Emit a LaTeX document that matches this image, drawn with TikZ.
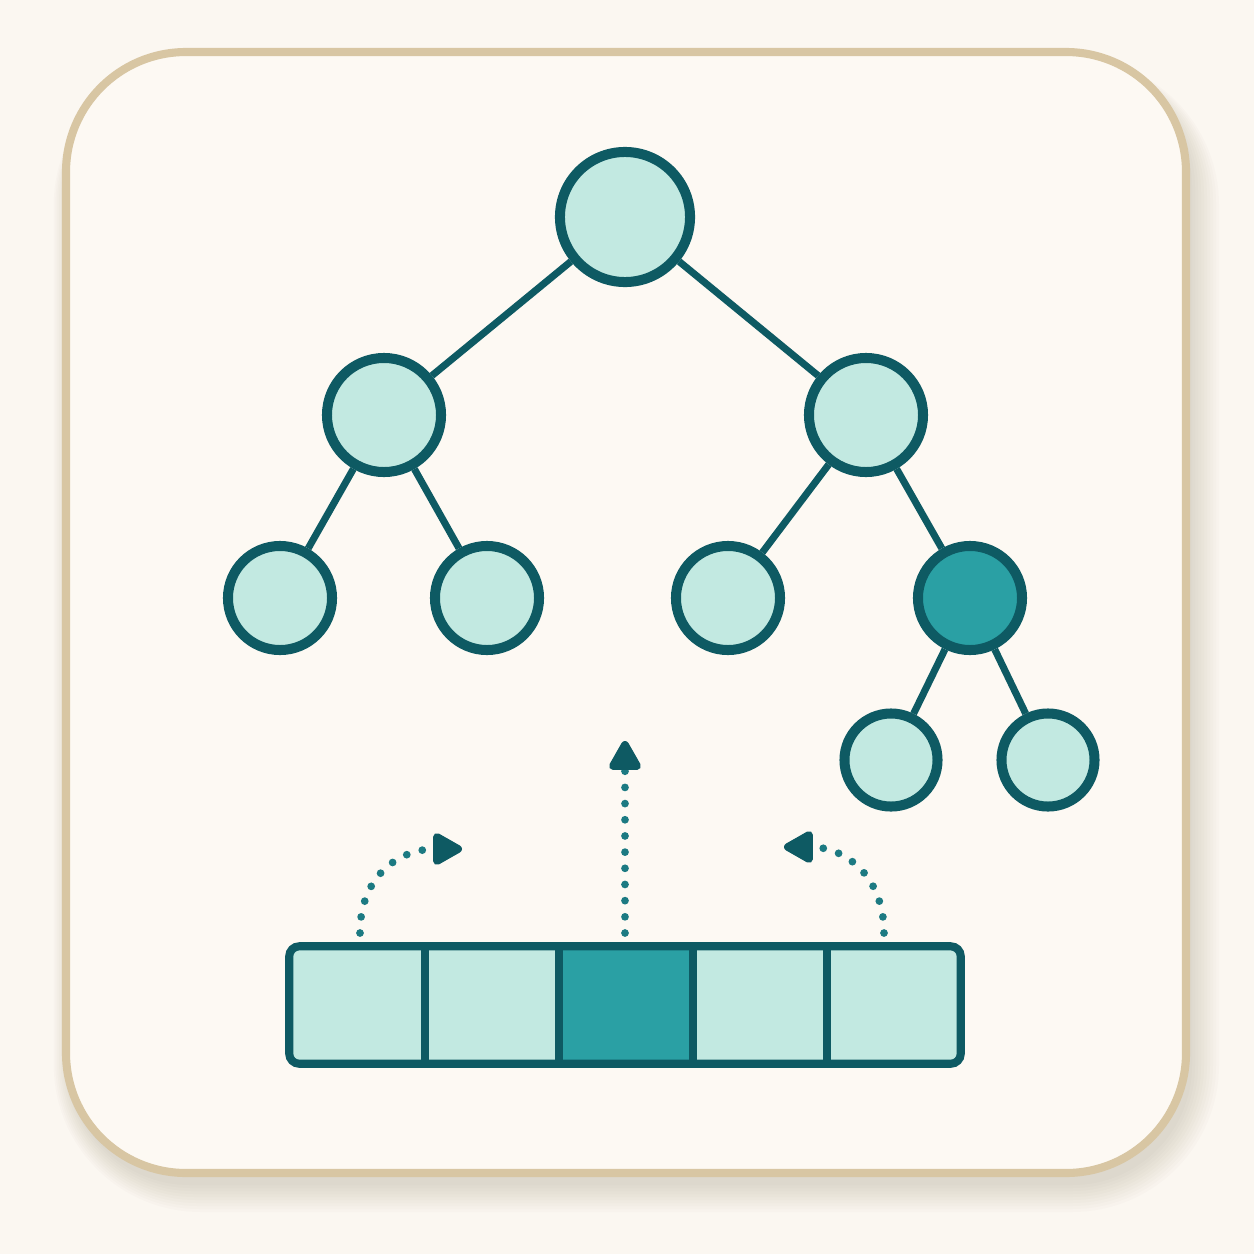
\documentclass[tikz,border=0pt]{standalone}
\usetikzlibrary{arrows.meta,calc}
\definecolor{bgc}{HTML}{FBF7F1}
\definecolor{cardc}{HTML}{FDF9F3}
\definecolor{cardline}{HTML}{D8C6A3}
\definecolor{tealdark}{HTML}{0E5A63}
\definecolor{teallight}{HTML}{C2E9E1}
\definecolor{tealmid}{HTML}{2AA0A4}
\definecolor{dotc}{HTML}{1C7A82}
\definecolor{shadowc}{HTML}{6B5A40}
\tikzset{
  tnode/.style={circle, draw=tealdark, fill=teallight, line width=2.85pt, inner sep=0pt},
  hotnode/.style={tnode, fill=tealmid},
  tedge/.style={draw=tealdark, line width=2pt},
  cellbox/.style={rectangle, fill=teallight, inner sep=0pt, minimum width=1.34cm, minimum height=1.16cm},
  hotcell/.style={cellbox, fill=tealmid},
  dotarrow/.style={draw=dotc, line width=2.2pt, line cap=round, dash pattern=on 0pt off 4.6pt,
    -{Triangle[length=9.5pt,width=10pt,round,color=tealdark,fill=tealdark]}}
}
\begin{document}
\begin{tikzpicture}[x=0.01cm,y=-0.01cm]
\useasboundingbox (0,0) rectangle (1254,1254);
\fill[bgc] (0,0) rectangle (1254,1254);
% soft shadow
\foreach \s in {0,3,...,27}
  \fill[shadowc, opacity=0.018, rounded corners={(120+\s)*0.01cm}]
    (66+4-\s*0.6,52+14-\s*0.3) rectangle (1186+6+\s,1173+12+\s);
% card
\path[fill=cardc, draw=cardline, line width=2.3pt, rounded corners=1.2cm]
  (66,52) rectangle (1186,1173);
% tree nodes
\node[tnode, minimum size=1.30cm] (r) at (625,217) {};
\node[tnode, minimum size=1.14cm] (a) at (384,415) {};
\node[tnode, minimum size=1.14cm] (b) at (866,415) {};
\node[tnode, minimum size=1.04cm] (a1) at (280,598) {};
\node[tnode, minimum size=1.04cm] (a2) at (487,598) {};
\node[tnode, minimum size=1.04cm] (b1) at (728,598) {};
\node[hotnode, minimum size=1.04cm] (b2) at (970,598) {};
\node[tnode, minimum size=0.93cm] (c1) at (891,760) {};
\node[tnode, minimum size=0.93cm] (c2) at (1048,760) {};
\draw[tedge] (r) -- (a);
\draw[tedge] (r) -- (b);
\draw[tedge] (a) -- (a1);
\draw[tedge] (a) -- (a2);
\draw[tedge] (b) -- (b1);
\draw[tedge] (b) -- (b2);
\draw[tedge] (b2) -- (c1);
\draw[tedge] (b2) -- (c2);
% array
\node[cellbox] (k1) at (357,1005) {};
\node[cellbox] (k2) at (491,1005) {};
\node[hotcell] (k3) at (625,1005) {};
\node[cellbox] (k4) at (759,1005) {};
\node[cellbox] (k5) at (893,1005) {};
\draw[tealdark, line width=2.3pt, rounded corners=0.1cm] (k1.north west) rectangle (k5.south east);
\foreach \i in {k1,k2,k3,k4}
  \draw[tealdark, line width=2.3pt] (\i.north east) -- (\i.south east);
% arrows
\coordinate (s1) at (360,933);
\coordinate (e1) at (462,849);
\coordinate (s2) at (625,933);
\coordinate (e2) at (625,741);
\coordinate (s3) at (884,933);
\coordinate (e3) at (784,847);
\draw[dotarrow] (s1) .. controls (360,875) and (400,849) .. (e1);
\draw[dotarrow] (s2) -- (e2);
\draw[dotarrow] (s3) .. controls (884,875) and (844,847) .. (e3);
\end{tikzpicture}
\end{document}
